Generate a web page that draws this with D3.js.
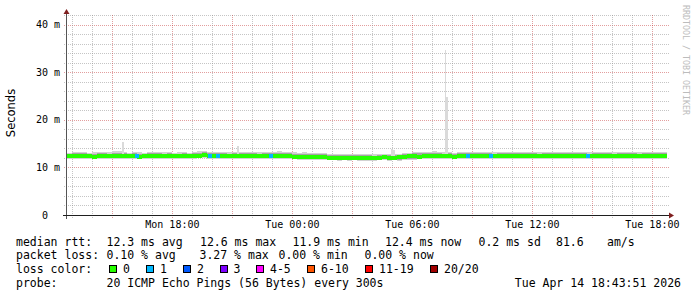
<!DOCTYPE html>
<html>
<head>
<meta charset="utf-8">
<script src="https://cdn.jsdelivr.net/npm/d3@7"></script>
<style>
html, body { margin: 0; padding: 0; background: #fff; }
svg { display: block; }
text { white-space: pre; }
</style>
</head>
<body>
<svg id="chart"></svg>
<script>
let width = 697
let height = 297
let plot = { left: 67, right: 667, top: 15, bottom: 215 }

// 30 hours of 15 minute steps, values in ms
let startTime = new Date('2026-04-13T12:43:51Z')
let endTime = new Date('2026-04-14T18:43:51Z')
let stepMinutes = 15

let median = [
  12.35, 12.3, 12.4, 12.35, 12.3, 12.25, 12.35, 12.4, 12.3, 12.35,
  12.3, 12.35, 12.4, 12.3, 12.25, 12.3, 12.35, 12.3, 12.4, 12.35,
  12.3, 12.35, 12.3, 12.4, 12.35, 12.3, 12.45, 12.5, 12.4, 12.35,
  12.4, 12.35, 12.3, 12.35, 12.4, 12.3, 12.35, 12.3, 12.35, 12.3,
  12.35, 12.4, 12.35, 12.3, 12.3, 12.25, 12.2, 12.15, 12.2, 12.1,
  12.15, 12.1, 12.05, 12.0, 11.95, 12.0, 11.95, 12.0, 11.9, 11.95,
  11.95, 11.9, 11.95, 12.15, 11.9, 11.9, 12.2, 12.25, 12.3, 12.3,
  12.25, 12.3, 12.35, 12.3, 12.3, 12.35, 12.3, 12.25, 12.3, 12.35,
  12.4, 12.35, 12.3, 12.35, 12.3, 12.35, 12.4, 12.3, 12.35, 12.4,
  12.35, 12.4, 12.35, 12.3, 12.35, 12.4, 12.35, 12.3, 12.35, 12.4,
  12.35, 12.3, 12.35, 12.4, 12.35, 12.3, 12.35, 12.4, 12.35, 12.3,
  12.35, 12.4, 12.35, 12.3, 12.35, 12.4, 12.35, 12.35, 12.4, 12.4
]

let smokeHigh = [
  13.1, 13.2, 13.15, 13.25, 13.1, 13.2, 13.3, 13.2, 13.15, 13.4,
  13.4, 13.2, 13.1, 13.2, 13.15, 13.1, 13.2, 13.3, 13.2, 13.15,
  13.2, 13.1, 13.15, 13.2, 13.1, 13.2, 13.35, 13.4, 13.3, 13.2,
  13.3, 13.2, 13.15, 13.2, 13.25, 13.2, 13.3, 13.2, 13.15, 13.2,
  13.25, 13.3, 13.35, 13.2, 13.3, 13.2, 13.1, 13.15, 13.1, 13.0,
  13.0, 13.05, 12.9, 12.85, 12.8, 12.85, 12.8, 12.75, 12.8, 12.85,
  12.8, 12.75, 12.85, 12.9, 12.8, 12.9, 12.85, 13.0, 13.1, 13.2,
  13.3, 13.2, 13.25, 13.4, 13.3, 13.15, 13.2, 13.1, 13.2, 13.25,
  13.3, 13.2, 13.25, 13.3, 13.2, 13.15, 13.3, 13.2, 13.25, 13.2,
  13.2, 13.3, 13.25, 13.2, 13.15, 13.3, 13.2, 13.25, 13.3, 13.2,
  13.25, 13.2, 13.3, 13.2, 13.15, 13.2, 13.25, 13.3, 13.2, 13.15,
  13.2, 13.25, 13.3, 13.2, 13.15, 13.2, 13.3, 13.2, 13.15, 13.2
]

let smokeLow = [
  11.8, 11.75, 11.85, 11.8, 11.75, 11.7, 11.8, 11.85, 11.75, 11.8,
  11.75, 11.8, 11.85, 11.75, 11.7, 11.75, 11.8, 11.75, 11.85, 11.8,
  11.75, 11.8, 11.75, 11.85, 11.8, 11.75, 11.9, 11.95, 11.85, 11.8,
  11.85, 11.8, 11.75, 11.8, 11.85, 11.75, 11.8, 11.75, 11.8, 11.75,
  11.8, 11.85, 11.8, 11.75, 11.75, 11.7, 11.65, 11.6, 11.65, 11.55,
  11.6, 11.55, 11.5, 11.45, 11.4, 11.45, 11.4, 11.45, 11.35, 11.4,
  11.4, 11.35, 11.45, 11.55, 11.4, 11.45, 11.35, 11.5, 11.6, 11.65,
  11.7, 11.75, 11.8, 11.75, 11.75, 11.8, 11.75, 11.7, 11.75, 11.8,
  11.85, 11.8, 11.75, 11.8, 11.75, 11.8, 11.85, 11.75, 11.8, 11.85,
  11.8, 11.85, 11.8, 11.75, 11.8, 11.85, 11.8, 11.75, 11.8, 11.85,
  11.8, 11.75, 11.8, 11.85, 11.8, 11.75, 11.8, 11.85, 11.8, 11.75,
  11.8, 11.85, 11.8, 11.75, 11.8, 11.85, 11.8, 11.8, 11.85, 11.85
]

// single slow pings (5 minute samples)
let spikeTimes = ['2026-04-13T15:29Z', '2026-04-13T21:14Z', '2026-04-14T04:57Z', '2026-04-14T05:02Z', '2026-04-14T07:37Z', '2026-04-14T07:42Z']
let spikeValues = [15.4, 14.5, 13.9, 13.7, 34.6, 24.8]

// samples with lost pings (10 minutes each)
let lossTimes = ['2026-04-13T16:09Z', '2026-04-13T19:48Z', '2026-04-13T20:12Z', '2026-04-13T22:51Z', '2026-04-14T08:42Z', '2026-04-14T09:51Z', '2026-04-14T14:42Z']
let lossCounts = [1, 1, 1, 1, 1, 1, 1]

let yTicks = [0, 10, 20, 30, 40]

let lossLabels = ['0', '1', '2', '3', '4-5', '6-10', '11-19', '20/20']
let lossColors = ['#26ff00', '#00b8ff', '#0059ff', '#7e00ff', '#ff00ff', '#ff5500', '#ff0000', '#a10000']
let lossLimits = [0, 1, 2, 3, 5, 10, 19, 20]

let rttStats = ['12.3 ms avg', '12.6 ms max', '11.9 ms min', '12.4 ms now', '0.2 ms sd', '81.6', 'am/s']
let lossStats = ['0.10 % avg', '3.27 % max', '0.00 % min', '0.00 % now']
let probeText = '20 ICMP Echo Pings (56 Bytes) every 300s'
let stampText = 'Tue Apr 14 18:43:51 2026'

let svg = d3.select('#chart').attr('width', width).attr('height', height)
svg.append('rect').attr('width', width).attr('height', height).attr('fill', '#fff')

let xScale = d3.scaleUtc().domain([startTime, endTime]).range([plot.left, plot.right])
let yScale = d3.scaleLinear().domain([0, 42]).range([plot.bottom, plot.top])

let mono = 'DejaVu Sans Mono, monospace'
let gridMinor = 'rgba(140,140,140,0.5)'
let gridMajor = 'rgba(190,40,40,0.45)'

// grid
let grid = svg.append('g').attr('shape-rendering', 'crispEdges')
d3.range(2, 43, 2).forEach(v => {
  let y = Math.round(yScale(v)) + 0.5
  grid.append('line')
      .attr('x1', plot.left - 3).attr('x2', plot.right + 2)
      .attr('y1', y).attr('y2', y)
      .attr('stroke', v % 10 == 0 ? gridMajor : gridMinor)
      .attr('stroke-dasharray', '1,1')
})
d3.utcHour.range(startTime, endTime).forEach(t => {
  let x = Math.round(xScale(t)) + 0.5
  grid.append('line')
      .attr('x1', x).attr('x2', x)
      .attr('y1', plot.top).attr('y2', plot.bottom + 3)
      .attr('stroke', t.getUTCHours() % 3 == 0 ? gridMajor : gridMinor)
      .attr('stroke-dasharray', '1,1')
})

// smoke and median
let steps = median.map((m, i) => ({
  t0: d3.utcMinute.offset(startTime, i * stepMinutes),
  t1: d3.utcMinute.offset(startTime, (i + 1) * stepMinutes),
  m: m, hi: smokeHigh[i], lo: smokeLow[i]
}))

let marks = svg.append('g').attr('shape-rendering', 'crispEdges')

marks.selectAll('rect.smoke')
     .data(steps).enter().append('rect')
     .attr('class', 'smoke')
     .attr('x', d => xScale(d.t0))
     .attr('width', d => xScale(d.t1) - xScale(d.t0))
     .attr('y', d => yScale(d.hi))
     .attr('height', d => yScale(d.lo) - yScale(d.hi))
     .attr('fill', '#d2d2d2')

let inner = 0.7
marks.selectAll('rect.smokein')
     .data(steps).enter().append('rect')
     .attr('class', 'smokein')
     .attr('x', d => xScale(d.t0))
     .attr('width', d => xScale(d.t1) - xScale(d.t0))
     .attr('y', d => yScale(d.m + (d.hi - d.m) * inner))
     .attr('height', d => yScale(d.m - (d.m - d.lo) * inner) - yScale(d.m + (d.hi - d.m) * inner))
     .attr('fill', '#a4a4a4')

let spikeStep = 5
marks.selectAll('rect.spike')
     .data(spikeTimes.map((t, i) => ({ t: new Date(t), v: spikeValues[i] })))
     .enter().append('rect')
     .attr('class', 'spike')
     .attr('x', d => xScale(d.t))
     .attr('width', d => xScale(d3.utcMinute.offset(d.t, spikeStep)) - xScale(d.t))
     .attr('y', d => yScale(d.v))
     .attr('height', d => yScale(12.4) - yScale(d.v))
     .attr('fill', '#dadada')

let lossColor = n => lossColors[lossLimits.findIndex(l => n <= l)]
let medianHalf = 2

marks.selectAll('rect.median')
     .data(steps).enter().append('rect')
     .attr('class', 'median')
     .attr('x', d => xScale(d.t0))
     .attr('width', d => xScale(d.t1) - xScale(d.t0))
     .attr('y', d => yScale(d.m) - medianHalf)
     .attr('height', medianHalf * 2)
     .attr('fill', lossColor(0))

let medianAt = t => steps[Math.min(steps.length - 1, Math.floor((t - startTime) / (stepMinutes * 60000)))].m
marks.selectAll('rect.loss')
     .data(lossTimes.map((t, i) => ({ t: new Date(t), n: lossCounts[i] })))
     .enter().append('rect')
     .attr('class', 'loss')
     .attr('x', d => xScale(d.t))
     .attr('width', d => xScale(d3.utcMinute.offset(d.t, 10)) - xScale(d.t))
     .attr('y', d => yScale(medianAt(d.t)) - medianHalf)
     .attr('height', medianHalf * 2)
     .attr('fill', d => lossColor(d.n))

// axes
let axisCol = '#1f1f1f'
let arrowCol = '#7f1f1f'
svg.append('line')
   .attr('x1', plot.left - 0.5).attr('x2', plot.left - 0.5)
   .attr('y1', plot.top - 2).attr('y2', plot.bottom + 4)
   .attr('stroke', '#555').attr('shape-rendering', 'crispEdges')
svg.append('line')
   .attr('x1', plot.left - 4).attr('x2', plot.right + 2)
   .attr('y1', plot.bottom + 0.5).attr('y2', plot.bottom + 0.5)
   .attr('stroke', axisCol).attr('shape-rendering', 'crispEdges')
svg.append('path')
   .attr('d', `M${plot.left - 0.5},${plot.top - 6} L${plot.left - 3.5},${plot.top - 1} L${plot.left + 2.5},${plot.top - 1} Z`)
   .attr('fill', arrowCol)
svg.append('path')
   .attr('d', `M${plot.right + 7},${plot.bottom + 0.5} L${plot.right + 2},${plot.bottom - 2.5} L${plot.right + 2},${plot.bottom + 3.5} Z`)
   .attr('fill', arrowCol)

// tick labels
svg.append('g').selectAll('text')
   .data(yTicks).enter().append('text')
   .attr('x', 60)
   .attr('y', d => yScale(d) + 3.5)
   .attr('text-anchor', 'end')
   .attr('font-family', mono).attr('font-size', 10)
   .attr('fill', '#000')
   .text(d => d == 0 ? '0  ' : d + ' m')

let labelTicks = d3.utcHour.range(startTime, endTime).filter(t => t.getUTCHours() % 6 == 0)
let fmt = d3.utcFormat('%a %H:%M')
svg.append('g').selectAll('text')
   .data(labelTicks).enter().append('text')
   .attr('x', d => xScale(d))
   .attr('y', 228)
   .attr('text-anchor', 'middle')
   .attr('font-family', mono).attr('font-size', 10)
   .attr('fill', '#000')
   .text(d => fmt(d))

svg.append('text')
   .attr('transform', 'translate(15,113) rotate(-90)')
   .attr('text-anchor', 'middle')
   .attr('font-family', 'DejaVu Sans, sans-serif').attr('font-size', 11.5)
   .attr('fill', '#000')
   .text('Seconds')

svg.append('text')
   .attr('transform', 'translate(683,5) rotate(90)')
   .attr('font-family', mono).attr('font-size', 8.3)
   .attr('fill', '#bcbcbc')
   .text('RRDTOOL / TOBI OETIKER')

// legend
let legend = svg.append('g').attr('font-family', mono).attr('font-size', 11.5).attr('fill', '#000')
let rows = [245.5, 259.2, 272.9, 286.6]
legend.append('text').attr('x', 16).attr('y', rows[0]).text('median rtt:')
let rttX = [106.5, 200, 292.5, 385, 478.5, 556, 607]
rttStats.forEach((s, i) => legend.append('text').attr('x', rttX[i]).attr('y', rows[0]).text(s))

legend.append('text').attr('x', 16).attr('y', rows[1]).text('packet loss:')
let lossX = [106.5, 199.5, 278.5, 364.5]
lossStats.forEach((s, i) => legend.append('text').attr('x', lossX[i]).attr('y', rows[1]).text(s))

legend.append('text').attr('x', 16).attr('y', rows[2]).text('loss color:')
let boxX = [109, 146, 183, 219.5, 256, 307, 365, 430]
lossLabels.forEach((s, i) => {
  legend.append('rect')
        .attr('x', boxX[i] + 0.5).attr('y', rows[2] - 7.5)
        .attr('width', 7).attr('height', 7)
        .attr('fill', lossColors[i]).attr('stroke', '#000')
        .attr('shape-rendering', 'crispEdges')
  legend.append('text').attr('x', boxX[i] + 14).attr('y', rows[2]).text(s)
})

legend.append('text').attr('x', 16).attr('y', rows[3]).text('probe:')
legend.append('text').attr('x', 106.5).attr('y', rows[3]).text(probeText)
legend.append('text').attr('x', 681).attr('y', rows[3]).attr('text-anchor', 'end').text(stampText)
</script>
</body>
</html>
